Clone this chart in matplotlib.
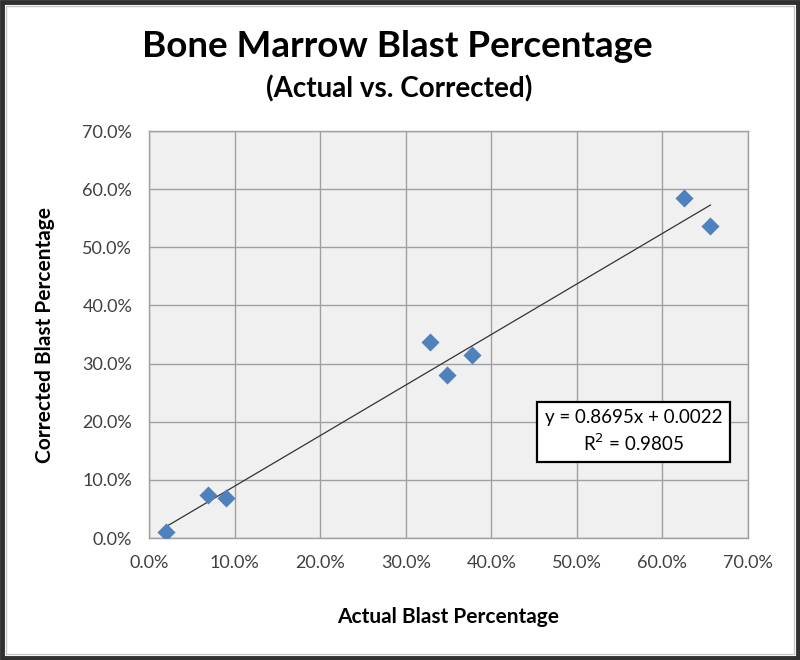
import matplotlib
matplotlib.use("Agg")
import matplotlib.pyplot as plt
import numpy as np
from matplotlib.patches import Rectangle
from matplotlib.ticker import FuncFormatter, MultipleLocator

plt.rcParams["font.family"] = ["Lato", "DejaVu Sans"]

# data (fractions)
actual = [0.020, 0.069, 0.090, 0.328, 0.348, 0.377, 0.625, 0.656]
corrected = [0.010, 0.074, 0.069, 0.337, 0.281, 0.315, 0.585, 0.537]
slope, intercept = 0.8695, 0.0022
r2 = 0.9805

BLUE = "#4f81bd"
GRID = "#a0a0a0"

fig = plt.figure(figsize=(8, 6.6), dpi=100)
ax = fig.add_axes([0.18625, 0.1848, 0.74875, 0.6167])
ax.set_facecolor("#f0f0f0")

ax.scatter(actual, corrected, marker="D", s=85, color=BLUE, zorder=3, linewidths=0)
xl = np.array([min(actual), max(actual)])
ax.plot(xl, slope * xl + intercept, color="#333333", lw=0.9, zorder=2)

ax.set_xlim(0, 0.7); ax.set_ylim(0, 0.7)
ax.xaxis.set_major_locator(MultipleLocator(0.1))
ax.yaxis.set_major_locator(MultipleLocator(0.1))
pct = FuncFormatter(lambda v, _: f"{v*100:.1f}%")
ax.xaxis.set_major_formatter(pct); ax.yaxis.set_major_formatter(pct)
ax.grid(color=GRID, lw=1.0)
ax.set_axisbelow(True)
for s in ax.spines.values():
    s.set_color(GRID); s.set_linewidth(1.0)
ax.tick_params(length=0, labelsize=13, colors="#404040", pad=12)

ax.set_xlabel("Actual Blast Percentage", fontsize=15, fontweight="bold", labelpad=26)
ax.set_ylabel("Corrected Blast Percentage", fontsize=15, fontweight="bold", labelpad=20)

fig.text(0.497, 0.93, "Bone Marrow Blast Percentage", ha="center", va="center",
         fontsize=26.5, fontweight="bold")
fig.text(0.499, 0.866, "(Actual vs. Corrected)", ha="center", va="center",
         fontsize=20, fontweight="bold")

ax.text(0.566, 0.183, f"y = {slope}x + {intercept:.4f}\nR$^2$ = {r2}",
        transform=ax.transData, ha="center", va="center", fontsize=13.5,
        linespacing=1.35, zorder=5,
        bbox=dict(boxstyle="square,pad=0.4", fc="white", ec="black", lw=1.6))

# outer chart frame
fig.patches.append(Rectangle((0.003, 0.003), 0.994, 0.994, transform=fig.transFigure,
                             fill=False, ec="#303030", lw=3.5))
fig.patches.append(Rectangle((0.008, 0.009), 0.984, 0.982, transform=fig.transFigure,
                             fill=False, ec="#c8c8c8", lw=1.0))

fig.savefig("out.png", dpi=100)
